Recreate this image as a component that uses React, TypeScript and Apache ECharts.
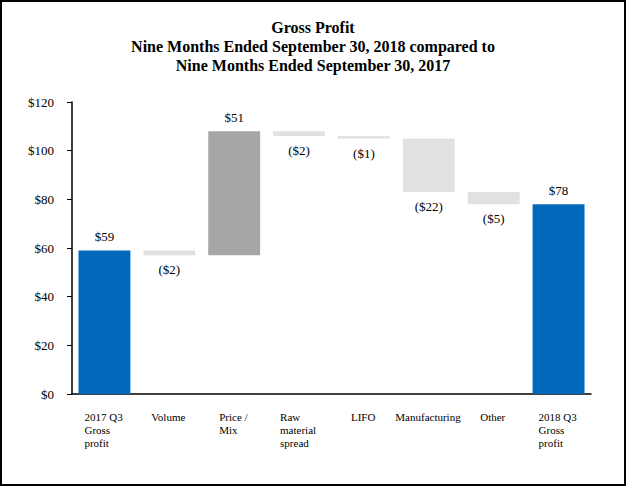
import React, { useEffect, useRef } from "react";
import * as echarts from "echarts";

const categories = [
  "2017 Q3\nGross\nprofit",
  "Volume",
  "Price /\nMix",
  "Raw\nmaterial\nspread",
  "LIFO",
  "Manufacturing",
  "Other",
  "2018 Q3\nGross\nprofit",
];
const startValue = 59;
const changes = [-2, 51, -2, -1, -22, -5];
const endValue = 78;
const yMin = 0;
const yMax = 120;
const yInterval = 20;

const FONT = "Liberation Serif";
const BLUE = "#0069BC";
const GRAY = "#A6A6A6";
const LIGHT = "#E1E1E1";

function measure(text: string, size: number): number {
  const c = document.createElement("canvas").getContext("2d");
  if (!c) return text.length * size * 0.5;
  c.font = `${size}px 'Liberation Serif'`;
  return c.measureText(text).width;
}

export default function App() {
  const ref = useRef<HTMLDivElement>(null);
  useEffect(() => {
    if (!ref.current) return;
    document.body.style.margin = "0";
    const chart = echarts.init(ref.current, undefined, { renderer: "svg" });

    const base: number[] = [0];
    const heights: number[] = [startValue];
    const signed: number[] = [startValue];
    let running = startValue;
    changes.forEach((d) => {
      const next = running + d;
      base.push(Math.min(running, next));
      heights.push(Math.abs(d));
      signed.push(d);
      running = next;
    });
    base.push(0);
    heights.push(endValue);
    signed.push(endValue);
    const last = categories.length - 1;

    const rich: Record<string, any> = {};
    categories.forEach((c, i) => {
      const w = Math.max(...c.split("\n").map((l) => measure(l, 11)));
      rich["c" + i] = {
        width: Math.ceil(w) + 1,
        align: "left",
        fontFamily: FONT,
        fontSize: 11,
        lineHeight: 13,
        color: "#000",
      };
    });

    chart.setOption({
      animation: false,
      textStyle: { fontFamily: FONT },
      title: {
        text:
          "Gross Profit\nNine Months Ended September 30, 2018 compared to\nNine Months Ended September 30, 2017",
        left: "center",
        top: 13,
        textStyle: {
          fontFamily: FONT,
          fontWeight: "bold",
          fontSize: 16,
          lineHeight: 19,
          color: "#000",
        },
      },
      graphic: [
        {
          type: "rect",
          shape: { x: 1, y: 1, width: 624, height: 484 },
          style: { fill: "none", stroke: "#000", lineWidth: 2 },
          silent: true,
        },
      ],
      grid: { left: 72, right: 35, top: 102, bottom: 92 },
      xAxis: {
        type: "category",
        data: categories,
        axisLine: { lineStyle: { color: "#000", width: 1.5 } },
        axisTick: { alignWithLabel: true, length: 6, lineStyle: { color: "#000" } },
        axisLabel: {
          interval: 0,
          margin: 16,
          fontFamily: FONT,
          formatter: (v: string, i: number) =>
            v
              .split("\n")
              .map((l) => `{c${i}|${l}}`)
              .join("\n"),
          rich,
        },
      },
      yAxis: {
        type: "value",
        min: yMin,
        max: yMax,
        interval: yInterval,
        splitLine: { show: false },
        axisLine: { show: true, lineStyle: { color: "#000", width: 1.5 } },
        axisTick: { show: true, length: 5, lineStyle: { color: "#000" } },
        axisLabel: {
          margin: 18,
          fontFamily: FONT,
          fontSize: 13,
          color: "#000",
          formatter: (v: number) => `$${v}`,
        },
      },
      series: [
        {
          type: "bar",
          stack: "w",
          data: base,
          itemStyle: { color: "transparent" },
          silent: true,
          barCategoryGap: "20%",
        },
        {
          type: "bar",
          stack: "w",
          barCategoryGap: "20%",
          data: heights.map((h, i) => {
            const s = signed[i];
            const isTotal = i === 0 || i === last;
            const color = isTotal ? BLUE : s > 0 ? GRAY : LIGHT;
            const neg = !isTotal && s < 0;
            return {
              value: h,
              itemStyle: { color },
              label: {
                show: true,
                position: neg ? "bottom" : "top",
                distance: neg ? 8 : 7,
                fontFamily: FONT,
                fontSize: 13,
                color: "#000",
                formatter: neg ? `($${Math.abs(s)})` : `$${s}`,
              },
            };
          }),
        },
      ],
    });
    return () => chart.dispose();
  }, []);
  return (
    <div
      ref={ref}
      style={{ width: 626, height: 486, position: "absolute", left: 0, top: 0, background: "#fff" }}
    />
  );
}
